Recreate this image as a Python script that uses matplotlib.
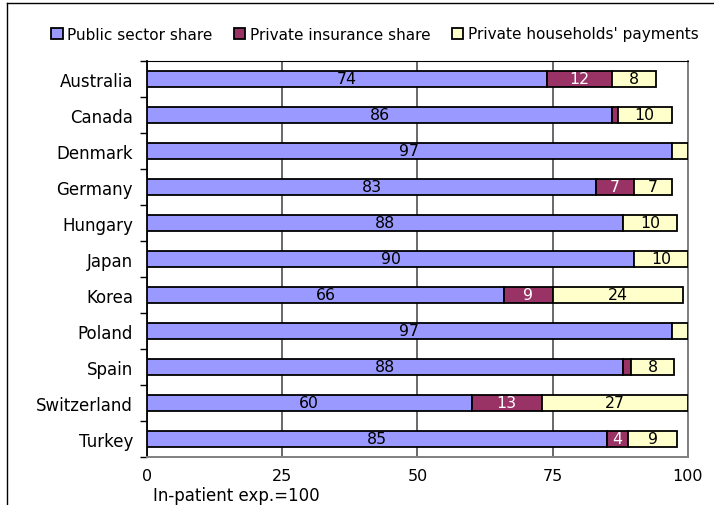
import matplotlib
matplotlib.use("Agg")
import matplotlib.pyplot as plt
from matplotlib.lines import Line2D
import numpy as np

countries = ["Australia", "Canada", "Denmark", "Germany", "Hungary", "Japan",
             "Korea", "Poland", "Spain", "Switzerland", "Turkey"]
public = [74, 86, 97, 83, 88, 90, 66, 97, 88, 60, 85]
insurance = [12, 1, 0, 7, 0, 0, 9, 0, 1.5, 13, 4]
households = [8, 10, 3, 7, 10, 10, 24, 3, 8, 27, 9]

series = [
    ("Public sector share", public, "#9999FF", "black"),
    ("Private insurance share", insurance, "#993366", "white"),
    ("Private households' payments", households, "#FFFFCC", "black"),
]

plt.rcParams["font.family"] = ["DejaVu Sans"]

fig = plt.figure(figsize=(7.14, 5.06), dpi=100)
ax = fig.add_axes([147/714, 1-458/506, 541/714, 396/506])

y = np.arange(len(countries))
left = np.zeros(len(countries))
for name, vals, color, txtcol in series:
    vals = np.array(vals, dtype=float)
    ax.barh(y, vals, left=left, height=0.42, color=color, edgecolor="black",
            linewidth=1.3, label=name, zorder=3)
    for yi, l, v in zip(y, left, vals):
        if v >= 4:
            ax.text(l + v/2, yi, f"{v:g}", ha="center", va="center",
                    color=txtcol, fontsize=11.3, zorder=4)
    left += vals

ax.set_xlim(0, 100)
ax.set_ylim(len(countries) - 0.5, -0.5)
ax.set_xticks([0, 25, 50, 75, 100])
ax.tick_params(axis="x", length=0, pad=8, labelsize=11.5)
ax.set_yticks(y)
ax.set_yticklabels(countries)
ax.tick_params(axis="y", which="major", length=0, pad=10, labelsize=12)
ax.set_yticks(np.arange(-0.5, len(countries)), minor=True)
ax.tick_params(axis="y", which="minor", length=5, width=1, direction="out")
ax.grid(axis="x", color="#404040", linewidth=1.1, zorder=0)

ax.spines["left"].set_color("black")
ax.spines["left"].set_linewidth(1.3)
ax.spines["top"].set_color("black")
ax.spines["top"].set_linewidth(0.8)
for s in ["right", "bottom"]:
    ax.spines[s].set_color("#808080")
    ax.spines[s].set_linewidth(1.4)

fig.text(153/714, 1-496/506, "In-patient exp.=100", fontsize=12, va="center", ha="left")

fig.legend(loc="center", bbox_to_anchor=(375/714, 1-35/506), ncol=3,
           frameon=False, fontsize=11, handlelength=0.75, handleheight=0.75,
           handletextpad=0.3, columnspacing=1.4)

# outer frame on the left and top
fig.add_artist(Line2D([7/714, 7/714], [0, 1-4/506], transform=fig.transFigure,
                      color="black", linewidth=1))
fig.add_artist(Line2D([7/714, 1], [1-4/506, 1-4/506], transform=fig.transFigure,
                      color="black", linewidth=1))

fig.savefig("out.png", dpi=100)
